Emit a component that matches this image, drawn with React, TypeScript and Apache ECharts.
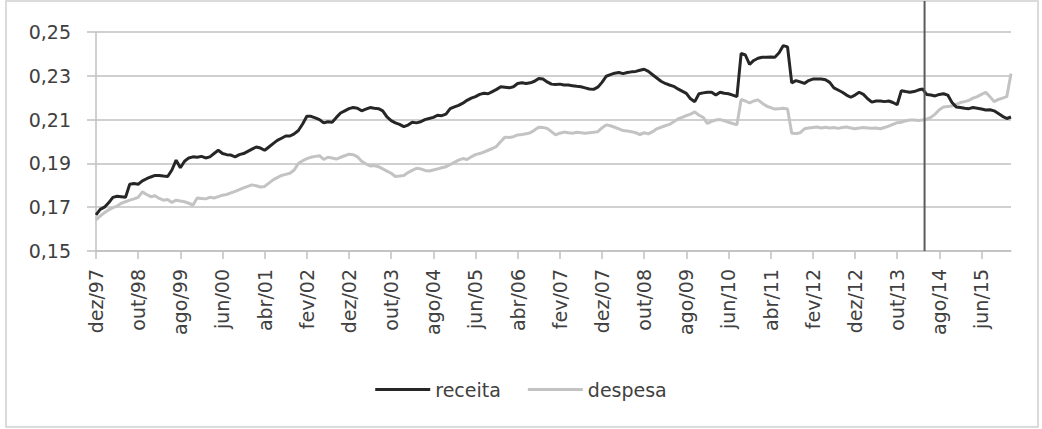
import React, { useEffect, useRef } from "react";
import * as echarts from "echarts";

const monthNames = ["jan", "fev", "mar", "abr", "mai", "jun", "jul", "ago", "set", "out", "nov", "dez"];
const startMonth = 11; // dez
const startYear = 1997;

const receita = [
  0.1665, 0.1690, 0.1700, 0.1720, 0.1745, 0.1750, 0.1748, 0.1745, 0.1805, 0.1808,
  0.1805, 0.1820, 0.1830, 0.1838, 0.1845, 0.1845, 0.1842, 0.1840, 0.1870, 0.1915,
  0.1880, 0.1910, 0.1925, 0.1930, 0.1928, 0.1932, 0.1925, 0.1930, 0.1945, 0.1960,
  0.1945, 0.1940, 0.1938, 0.1930, 0.1940, 0.1945, 0.1955, 0.1965, 0.1975, 0.1970,
  0.1960, 0.1975, 0.1990, 0.2005, 0.2015, 0.2025, 0.2025, 0.2035, 0.2050, 0.2080,
  0.2115, 0.2115, 0.2108, 0.2100, 0.2085, 0.2090, 0.2088, 0.2110, 0.2130, 0.2140,
  0.2150, 0.2155, 0.2152, 0.2140, 0.2148, 0.2155, 0.2152, 0.2150, 0.2140, 0.2112,
  0.2095, 0.2085, 0.2078, 0.2068, 0.2075, 0.2088, 0.2085, 0.2090, 0.2100, 0.2105,
  0.2110, 0.2120, 0.2118, 0.2125, 0.2150, 0.2158, 0.2165, 0.2175, 0.2188, 0.2198,
  0.2205, 0.2215, 0.2220, 0.2218, 0.2228, 0.2238, 0.2250, 0.2248, 0.2245, 0.2250,
  0.2265, 0.2268, 0.2265, 0.2268, 0.2275, 0.2288, 0.2285, 0.2272, 0.2262, 0.2260,
  0.2262, 0.2258, 0.2258, 0.2255, 0.2252, 0.2250, 0.2245, 0.2240, 0.2238, 0.2248,
  0.2270, 0.2298, 0.2305, 0.2312, 0.2315, 0.2310, 0.2315, 0.2318, 0.2320, 0.2325,
  0.2330, 0.2320, 0.2305, 0.2290, 0.2275, 0.2265, 0.2258, 0.2252, 0.2240, 0.2230,
  0.2220, 0.2195, 0.2182, 0.2218, 0.2222, 0.2225, 0.2225, 0.2212, 0.2225, 0.2220,
  0.2218, 0.2212, 0.2205, 0.2402, 0.2395, 0.2352, 0.2370, 0.2380, 0.2385, 0.2385,
  0.2386, 0.2385, 0.2405, 0.2438, 0.2432, 0.2268, 0.2278, 0.2272, 0.2265, 0.2278,
  0.2285, 0.2285, 0.2285, 0.2282, 0.2270, 0.2245, 0.2235, 0.2225, 0.2212, 0.2202,
  0.2212, 0.2225, 0.2215, 0.2195, 0.2180, 0.2185, 0.2185, 0.2182, 0.2185, 0.2178,
  0.2168, 0.2232, 0.2228, 0.2225, 0.2228, 0.2235, 0.2240, 0.2215, 0.2212, 0.2208,
  0.2215, 0.2218, 0.2212, 0.2178, 0.2158, 0.2155, 0.2152, 0.2150, 0.2155, 0.2152,
  0.2148, 0.2144, 0.2145, 0.2140, 0.2128, 0.2115, 0.2105, 0.2112,
];

const despesa = [
  0.1642, 0.1660, 0.1675, 0.1688, 0.1698, 0.1705, 0.1718, 0.1725, 0.1732, 0.1738,
  0.1745, 0.1770, 0.1758, 0.1748, 0.1752, 0.1740, 0.1732, 0.1735, 0.1722, 0.1732,
  0.1728, 0.1725, 0.1718, 0.1710, 0.1742, 0.1740, 0.1738, 0.1745, 0.1742, 0.1748,
  0.1755, 0.1758, 0.1765, 0.1772, 0.1780, 0.1788, 0.1795, 0.1802, 0.1798, 0.1792,
  0.1795, 0.1810, 0.1825, 0.1835, 0.1845, 0.1850, 0.1855, 0.1870, 0.1900, 0.1912,
  0.1922, 0.1928, 0.1932, 0.1935, 0.1918, 0.1928, 0.1925, 0.1920, 0.1928, 0.1935,
  0.1942, 0.1940, 0.1930, 0.1910, 0.1898, 0.1888, 0.1890, 0.1885, 0.1875, 0.1865,
  0.1855, 0.1840, 0.1842, 0.1845, 0.1858, 0.1868, 0.1878, 0.1875, 0.1868, 0.1865,
  0.1870, 0.1875, 0.1880, 0.1885, 0.1895, 0.1905, 0.1915, 0.1922, 0.1918, 0.1930,
  0.1940, 0.1945, 0.1952, 0.1960, 0.1968, 0.1978, 0.2000, 0.2020, 0.2018, 0.2022,
  0.2030, 0.2032, 0.2035, 0.2040, 0.2052, 0.2065, 0.2064, 0.2060, 0.2045, 0.2030,
  0.2038, 0.2043, 0.2040, 0.2038, 0.2042, 0.2040, 0.2038, 0.2040, 0.2042, 0.2045,
  0.2062, 0.2076, 0.2072, 0.2065, 0.2058, 0.2050, 0.2048, 0.2045, 0.2040, 0.2032,
  0.2040, 0.2035, 0.2045, 0.2058, 0.2065, 0.2072, 0.2078, 0.2090, 0.2103, 0.2110,
  0.2118, 0.2125, 0.2135, 0.2120, 0.2110, 0.2082, 0.2092, 0.2098, 0.2100, 0.2095,
  0.2088, 0.2082, 0.2076, 0.2192, 0.2185, 0.2176, 0.2185, 0.2190, 0.2175, 0.2162,
  0.2155, 0.2148, 0.2150, 0.2152, 0.2148, 0.2038, 0.2036, 0.2040, 0.2058, 0.2062,
  0.2064, 0.2066, 0.2062, 0.2065, 0.2062, 0.2064, 0.2060, 0.2064, 0.2066, 0.2062,
  0.2058, 0.2062, 0.2064, 0.2062, 0.2060, 0.2062, 0.2058, 0.2064, 0.2070, 0.2078,
  0.2086, 0.2088, 0.2094, 0.2098, 0.2098, 0.2096, 0.2098, 0.2102, 0.2110, 0.2125,
  0.2145, 0.2158, 0.2160, 0.2162, 0.2170, 0.2178, 0.2182, 0.2188, 0.2198, 0.2205,
  0.2215, 0.2225, 0.2205, 0.2182, 0.2192, 0.2198, 0.2205, 0.2310,
];

const categories = receita.map((_, i) => {
  const m = startMonth + i;
  const name = monthNames[m % 12];
  const yr = (startYear + Math.floor(m / 12)) % 100;
  return `${name}/${String(yr).padStart(2, "0")}`;
});

// vertical marker drawn between these two months
const markerBetween = ["abr/14", "mai/14"];

const yMin = 0.15;
const yMax = 0.25;
const yStep = 0.02;

const FONT = "DejaVu Sans";
const TEXT = "#404040";
const GRID = "#c0c0c0";

export default function App() {
  const ref = useRef<HTMLDivElement>(null);

  useEffect(() => {
    document.body.style.margin = "0";
    const chart = echarts.init(ref.current!, undefined, { renderer: "svg" });
    chart.setOption({
      animation: false,
      backgroundColor: "#ffffff",
      textStyle: { fontFamily: FONT },
      grid: { left: 96, right: 31, top: 32, bottom: 178, containLabel: false },
      legend: {
        data: [
          { name: "receita", icon: "rect" },
          { name: "despesa", icon: "rect" },
        ],
        left: "center",
        top: 375,
        itemWidth: 55,
        itemHeight: 3,
        itemGap: 27,
        textStyle: { fontSize: 19, color: TEXT, fontFamily: FONT },
      },
      xAxis: {
        type: "category",
        data: categories,
        boundaryGap: false,
        axisLine: { show: true, lineStyle: { color: GRID, width: 1.5 } },
        axisTick: { show: true, interval: 9, length: 8, lineStyle: { color: GRID, width: 1.5 } },
        axisLabel: {
          interval: 9,
          rotate: 90,
          margin: 18,
          fontSize: 19,
          color: TEXT,
          fontFamily: FONT,
        },
        splitLine: { show: false },
      },
      yAxis: {
        type: "value",
        min: yMin,
        max: yMax,
        interval: yStep,
        axisLine: { show: true, lineStyle: { color: GRID, width: 1.5 } },
        axisTick: { show: true, length: 9, lineStyle: { color: GRID, width: 1.5 } },
        axisLabel: {
          margin: 25,
          fontSize: 19,
          color: TEXT,
          fontFamily: FONT,
          formatter: (v: number) => v.toFixed(2).replace(".", ","),
        },
        splitLine: { show: true, lineStyle: { color: GRID, width: 1.5 } },
      },
      series: [
        {
          name: "receita",
          type: "line",
          data: receita,
          symbol: "none",
          lineStyle: { color: "#262626", width: 3 },
          itemStyle: { color: "#262626" },
          z: 3,
        },
        {
          name: "despesa",
          type: "line",
          data: despesa,
          symbol: "none",
          lineStyle: { color: "#c3c3c3", width: 3 },
          itemStyle: { color: "#c3c3c3" },
          z: 2,
        },
      ],
    });

    const i1 = categories.indexOf(markerBetween[0]);
    const i2 = categories.indexOf(markerBetween[1]);
    const x1 = chart.convertToPixel({ xAxisIndex: 0 }, i1) as number;
    const x2 = chart.convertToPixel({ xAxisIndex: 0 }, i2) as number;
    const xm = (x1 + x2) / 2;
    const yBottom = chart.convertToPixel({ yAxisIndex: 0 }, yMin) as number;

    chart.setOption({
      graphic: [
        {
          type: "rect",
          shape: { x: 6, y: 1, width: 1032, height: 426 },
          style: { fill: "none", stroke: "#d0d0d0", lineWidth: 1.5 },
          silent: true,
          z: 0,
        },
        {
          type: "line",
          shape: { x1: xm, y1: 1, x2: xm, y2: yBottom },
          style: { stroke: "#5a5a5a", lineWidth: 2 },
          silent: true,
          z: 10,
        },
      ],
    });

    return () => chart.dispose();
  }, []);

  return <div ref={ref} style={{ width: 1042, height: 429 }} />;
}
